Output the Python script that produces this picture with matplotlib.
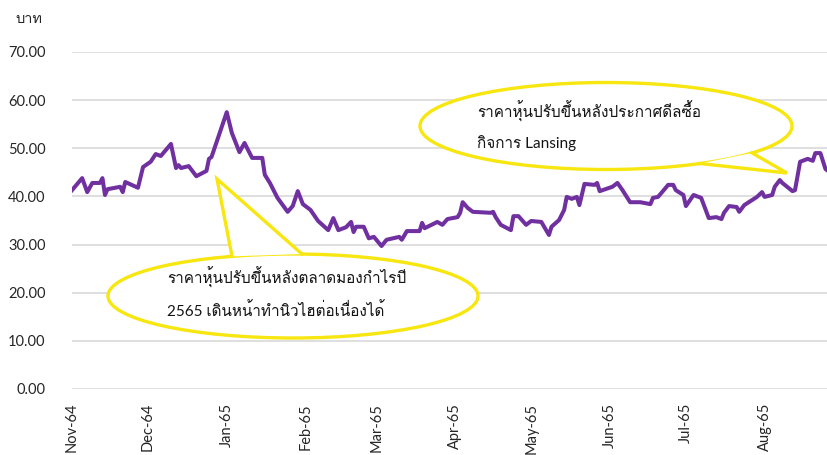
import matplotlib
matplotlib.use('Agg')
import matplotlib.pyplot as plt
import matplotlib.dates as mdates
from matplotlib import font_manager
from matplotlib.ft2font import FT2Font
from matplotlib.patches import Ellipse, Polygon
from matplotlib.lines import Line2D
import numpy as np
import pandas as pd

# share price (baht); day = days after 1 Nov 2021 (Nov-64)
start = '2021-11-01'
days = [0, 4, 6, 8, 11, 12, 13, 14, 19, 20, 21, 26, 28, 31, 33, 35, 39, 41, 42, 43,
        46, 49, 53, 54, 55, 61, 63, 66, 68, 71, 75, 76, 78, 81, 85, 87, 89, 91, 94, 97,
        101, 103, 105, 108, 110, 111, 112, 115, 117, 119, 122, 124, 129, 130, 132, 137, 138, 139, 144, 146,
        148, 152, 153, 154, 156, 158, 165, 166, 167, 169, 173, 174, 176, 179, 181, 185, 188, 189, 192, 194,
        195, 197, 199, 200, 202, 206, 207, 208, 213, 215, 217, 220, 224, 228, 229, 231, 235, 237, 238, 241,
        242, 245, 248, 251, 254, 256, 257, 259, 262, 263, 265, 270, 272, 273, 276, 277, 279, 280, 284, 285,
        287, 290, 292, 293, 295, 297, 298]
prices = [41.3, 43.8, 40.9, 42.8, 42.8, 43.8, 40.3, 41.5, 42.0, 40.9, 43.0, 41.8, 46.1, 47.2, 48.8, 48.4, 50.9, 45.9, 46.5, 45.9,
          46.3, 44.2, 45.3, 47.8, 48.2, 57.5, 53.2, 49.2, 51.1, 48.0, 48.0, 44.5, 42.8, 39.7, 36.8, 38.0, 41.1, 38.4, 37.2, 34.9,
          33.0, 35.5, 33.0, 33.6, 34.7, 32.6, 33.7, 33.7, 31.3, 31.6, 29.7, 31.0, 31.6, 31.0, 32.8, 32.8, 34.5, 33.4, 34.7, 34.1,
          35.3, 35.7, 36.6, 38.8, 37.6, 36.8, 36.6, 36.8, 35.7, 34.1, 33.0, 35.9, 35.9, 34.1, 34.9, 34.7, 32.0, 33.7, 35.1, 37.2,
          39.9, 39.5, 39.9, 38.2, 42.6, 42.4, 42.8, 41.1, 42.0, 42.8, 41.3, 38.8, 38.8, 38.4, 39.7, 39.9, 42.4, 42.4, 41.3, 40.3,
          38.0, 40.3, 39.7, 35.5, 35.7, 35.3, 36.6, 38.0, 37.8, 36.8, 38.2, 39.9, 40.9, 39.9, 40.3, 42.0, 43.4, 42.8, 41.1, 41.3,
          47.2, 47.8, 47.4, 49.0, 49.0, 45.7, 45.3]
yticks = [0, 10, 20, 30, 40, 50, 60, 70]
unit = 'บาท'
note1 = 'ราคาหุ้นปรับขึ้นหลังตลาดมองกำไรปี\n2565 เดินหน้าทำนิวไฮต่อเนื่องได้'
note2 = 'ราคาหุ้นปรับขึ้นหลังประกาศดีลซื้อ\nกิจการ Lansing'


def find_thai_font():
    for f in font_manager.fontManager.ttflist:
        try:
            if 0x0E01 in FT2Font(f.fname).get_charmap():
                return f.name
        except Exception:
            pass
    return 'DejaVu Sans'


thai = find_thai_font()
plt.rcParams['font.family'] = ['Lato', thai, 'DejaVu Sans']

W, H = 828, 455
fig = plt.figure(figsize=(W / 100, H / 100), dpi=100)
ax = fig.add_axes([72 / W, 1 - 389 / H, 1 - 72 / W, (389 - 52) / H])

dates = pd.Timestamp(start) + pd.to_timedelta(days, unit='D')
ax.plot(dates, prices, color='#7030A0', lw=2.9, solid_joinstyle='round', zorder=3)

ax.set_ylim(0, 70)
ax.set_yticks(yticks)
ax.yaxis.set_major_formatter(matplotlib.ticker.FormatStrFormatter('%.2f'))
ax.set_xlim(pd.Timestamp(start), pd.Timestamp(start) + pd.Timedelta(days=298))
ax.xaxis.set_major_locator(mdates.MonthLocator())


def thai_month(x, pos=None):
    d = mdates.num2date(x)
    return f"{d:%b}-{(d.year + 543) % 100:02d}"


ax.xaxis.set_major_formatter(matplotlib.ticker.FuncFormatter(thai_month))
ax.tick_params(axis='y', length=0, pad=19, labelsize=10.5, labelcolor='#262626')
ax.tick_params(axis='x', length=0, pad=10, labelsize=10.5, labelcolor='#262626', rotation=90)
ax.grid(axis='y', color='#D9D9D9', lw=1.2)
ax.set_axisbelow(True)
for s in ax.spines.values():
    s.set_visible(False)

fig.text(15 / W, 1 - 19 / H, unit, ha='left', va='center', fontsize=10.5, color='#262626')


def px(x, y):
    return x / W, 1 - y / H


def callout(cx, cy, w, h, x1, x2, tip, side, text, tx, ty):
    yellow = '#F7E60F'
    fig.add_artist(Ellipse(px(cx, cy), w / W, h / H, transform=fig.transFigure,
                           facecolor='white', edgecolor=yellow, lw=2.4, zorder=3))
    base = []
    for bx in (x1, x2):
        dy = (h / 2) * np.sqrt(max(0.0, 1 - ((bx - cx) / (w / 2)) ** 2))
        base.append((bx, cy - dy if side == 'top' else cy + dy))
    pts = [px(*base[0]), px(*tip), px(*base[1])]
    fig.add_artist(Polygon(pts, closed=True, transform=fig.transFigure,
                           facecolor='white', edgecolor='none', zorder=4))
    fig.add_artist(Line2D([p[0] for p in pts], [p[1] for p in pts], transform=fig.transFigure,
                          color=yellow, lw=2.4, solid_joinstyle='miter', zorder=5))
    fig.text(*px(tx, ty), text, ha='left', va='center', fontsize=11, color='#141414',
             linespacing=2.0, zorder=6)


callout(293, 296, 370, 84, 232, 302, (217, 179), 'top', note1, 167, 293)
callout(606, 126, 372, 87, 700, 752, (787, 173), 'bottom', note2, 477, 126)

fig.savefig('out.png', dpi=100)
